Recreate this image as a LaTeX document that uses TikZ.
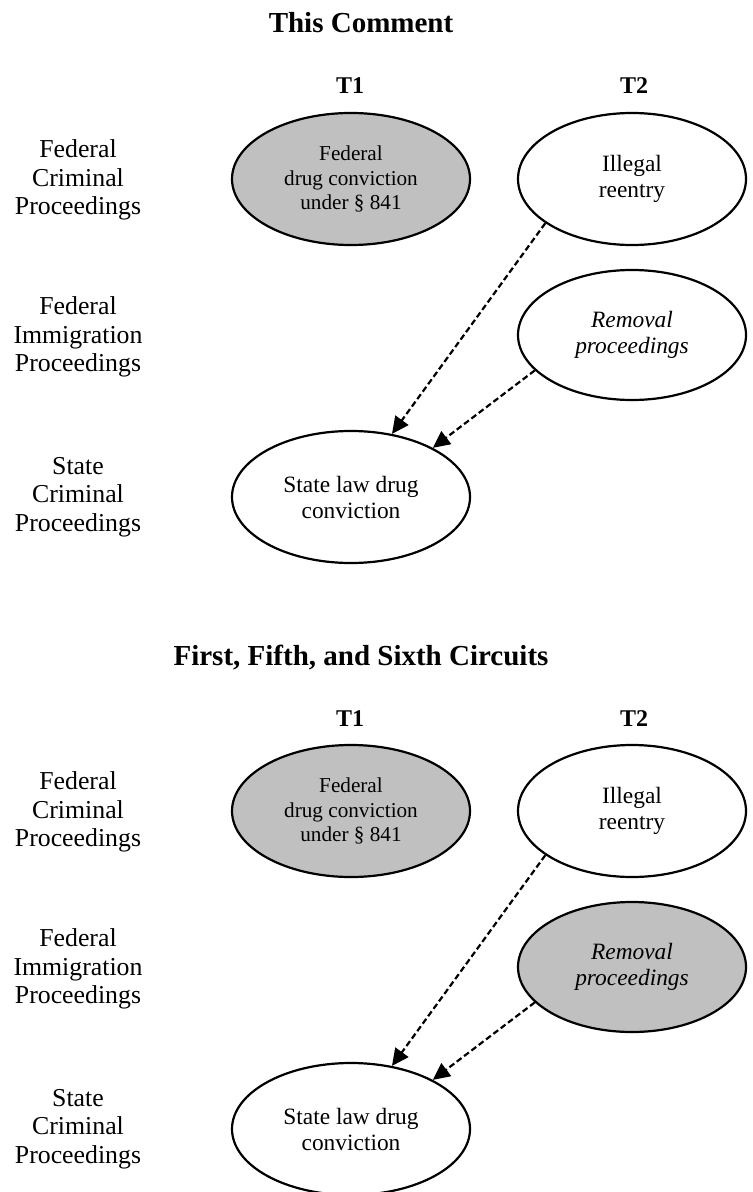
\documentclass[tikz,border=0pt]{standalone}
\usepackage{fontspec}
\setmainfont{Liberation Serif}
\usetikzlibrary{shapes.geometric,arrows.meta}
\definecolor{shade}{HTML}{C0C0C0}

\begin{document}
\begin{tikzpicture}[x=0.5pt,y=-0.5pt,
        event/.style={ellipse,draw,line width=1.1pt,minimum width=119pt,minimum height=66pt,
            inner sep=1pt,align=center,font=\fontsize{11.7}{13}\selectfont},
        small/.style={font=\fontsize{10.6}{12.2}\selectfont},
        court/.style={align=center,font=\fontsize{12.9}{14.2}\selectfont},
        heading/.style={anchor=base,font=\fontsize{14.5}{17}\selectfont\bfseries},
        stage/.style={anchor=base,font=\fontsize{12}{14}\selectfont\bfseries},
        link/.style={-{Triangle[length=8.5pt,width=8pt]},dash pattern=on 3pt off 1.6pt,line width=1.1pt}]
        \useasboundingbox (0,0) rectangle (752,1192);

        % upper panel
        \node[heading] (title1) at (361,33) {This Comment};
        \node[stage] (tone1) at (350,94) {T1};
        \node[stage] (ttwo1) at (634,94) {T2};
        \node[court] (fedcrim1) at (78,180) {Federal\\Criminal\\Proceedings};
        \node[court] (fedimm1) at (78,337) {Federal\\Immigration\\Proceedings};
        \node[court] (statecrim1) at (78,497) {State\\Criminal\\Proceedings};
        \node[event,small,fill=shade] (federal1) at (351,179) {Federal\\drug conviction\\under \S\ 841};
        \node[event,minimum width=114pt] (reentry1) at (632,179) {Illegal\\reentry};
        \node[event,minimum width=114pt,minimum height=65pt] (removal1) at (632,335) {\itshape Removal\\\itshape proceedings};
        \node[event] (state1) at (351,497) {State law drug\\conviction};
        \draw[link] (reentry1.207) -- (state1.57);
        \draw[link] (removal1.200) -- (state1.31);

        % lower panel
        \node[heading] (title2) at (361,665) {First, Fifth, and Sixth Circuits};
        \node[stage] (tone2) at (350,726) {T1};
        \node[stage] (ttwo2) at (634,726) {T2};
        \node[court] (fedcrim2) at (78,812) {Federal\\Criminal\\Proceedings};
        \node[court] (fedimm2) at (78,969) {Federal\\Immigration\\Proceedings};
        \node[court] (statecrim2) at (78,1129) {State\\Criminal\\Proceedings};
        \node[event,small,fill=shade] (federal2) at (351,811) {Federal\\drug conviction\\under \S\ 841};
        \node[event,minimum width=114pt] (reentry2) at (632,811) {Illegal\\reentry};
        \node[event,fill=shade,minimum width=114pt,minimum height=65pt] (removal2) at (632,967) {\itshape Removal\\\itshape proceedings};
        \node[event] (state2) at (351,1129) {State law drug\\conviction};
        \draw[link] (reentry2.207) -- (state2.57);
        \draw[link] (removal2.200) -- (state2.31);
\end{tikzpicture}
\end{document}
